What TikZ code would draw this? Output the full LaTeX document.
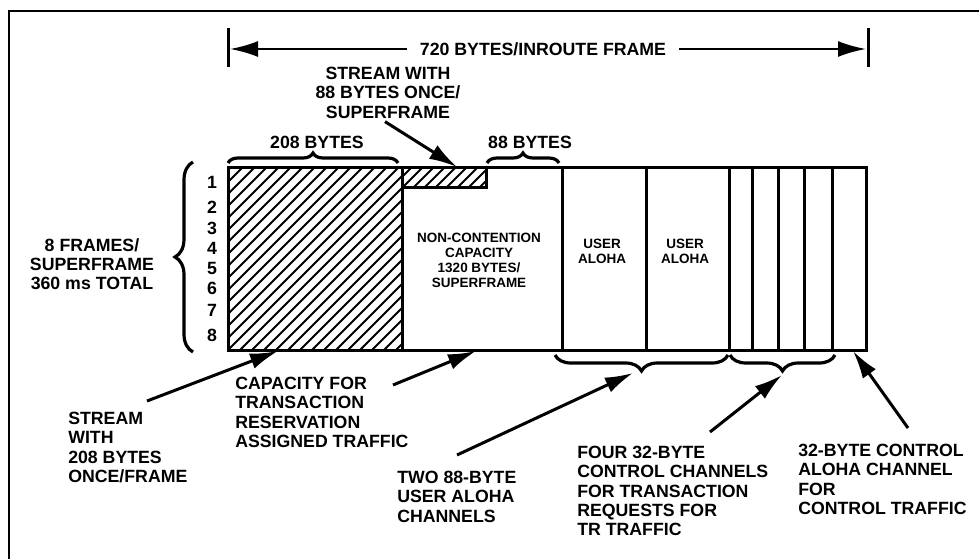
\documentclass[tikz,border=0pt]{standalone}
\usepackage{fontspec}
\setmainfont{Liberation Sans}
\usepackage{tikz}
\usetikzlibrary{arrows.meta,decorations.pathreplacing}
\newcommand{\lblfont}{\fontsize{12.6}{13.7}\selectfont\bfseries}
\newcommand{\boxfont}{\fontsize{9.6}{10.6}\selectfont\bfseries}

\begin{document}
\begin{tikzpicture}[
    x=0.025cm,y=-0.025cm,
    >={Latex[length=0.7cm,width=0.4cm]},
    lbl/.style={font=\lblfont,inner sep=0pt},
    boxlbl/.style={font=\boxfont,inner sep=0pt,align=center,anchor=north},
    note/.style={font=\lblfont,inner sep=0pt,align=left,anchor=north west},
    frm/.style={line width=0.075cm},
    arr/.style={->,line width=0.075cm},
    dimarr/.style={->,line width=0.06cm},
    brc/.style={decorate,decoration={brace,amplitude=#1},line width=0.08cm},
    hatch/.style={line width=0.05cm}
  ]
  \useasboundingbox (0,0) rectangle (979,559);
  %% Outer frame (top and left edges)
  \draw[line width=0.05cm] (9,559) -- (9,11) -- (979,11);
  %% Inroute frame width
  \node[lbl,text depth=0pt,inner xsep=0.32cm] (title) at (543,49) {720 BYTES/INROUTE FRAME};
  \coordinate (lend) at (230,49);
  \coordinate (rend) at (866,49);
  \draw[frm] (228,28) -- (228,67);
  \draw[frm] (868,28) -- (868,67);
  \draw[dimarr] (title.west) -- (lend);
  \draw[dimarr] (title.east) -- (rend);
  %% Hatched streams
  \begin{scope}
    \clip (228,167) rectangle (402,350);
    \foreach \k in {0,...,32}
      \draw[hatch] (36+\k*12,350) -- ++(200,-200);
  \end{scope}
  \begin{scope}
    \clip (402,167) rectangle (486,187);
    \foreach \k in {0,...,9}
      \draw[hatch] (392+\k*11,187) -- ++(25,-25);
  \end{scope}
  %% Superframe slots
  \draw[frm] (228,167) rectangle (866,350);
  \foreach \x in {402,562,646,729,752,778,804,832}
    \draw[frm] (\x,167) -- (\x,350);
  \draw[frm] (402,187) -- (486,187) -- (486,167);
  %% Slot texts
  \node[boxlbl] (nc) at (479,233) {NON-CONTENTION\\CAPACITY\\1320 BYTES/\\SUPERFRAME};
  \node[boxlbl] (ua1) at (602,239) {USER\\ALOHA};
  \node[boxlbl] (ua2) at (685,239) {USER\\ALOHA};
  %% Frame numbers
  \foreach \n/\y in {1/182,2/207,3/228,4/248,5/268,6/288,7/310,8/335}
    \node[lbl,anchor=base] (n\n) at (212,\y+6) {\n};
  \draw[brc=0.45cm] (193,352) -- (193,162);
  \node[lbl,align=center,anchor=north] (frames) at (92,238) {8 FRAMES/\\SUPERFRAME\\360 ms TOTAL};
  %% Byte braces above
  \draw[brc=0.25cm] (228,163) -- (398,163);
  \draw[brc=0.25cm] (487,163) -- (559,163);
  \node[lbl,anchor=base] (b208) at (317,148) {208 BYTES};
  \node[lbl,anchor=base] (b88) at (530,148) {88 BYTES};
  \node[lbl,align=center,anchor=north] (s88) at (388,67) {STREAM WITH\\88 BYTES ONCE/\\SUPERFRAME};
  \coordinate (t88) at (457,167);
  \draw[arr] (s88.south) ++(-3,3) -- (t88);
  %% Channel braces below
  \draw[brc=0.4cm] (728,355) -- (555,355);
  \draw[brc=0.4cm] (835,355) -- (730,355);
  %% Annotations below
  \node[note] (s208) at (68,412) {STREAM\\WITH\\208 BYTES\\ONCE/FRAME};
  \node[note] (cap) at (235,377) {CAPACITY FOR\\TRANSACTION\\RESERVATION\\ASSIGNED TRAFFIC};
  \node[note] (two) at (397,471) {TWO 88-BYTE\\USER ALOHA\\CHANNELS};
  \node[note] (four) at (577,446) {FOUR 32-BYTE\\CONTROL CHANNELS\\FOR TRANSACTION\\REQUESTS FOR\\TR TRAFFIC};
  \node[note] (ctl) at (798,444) {32-BYTE CONTROL\\ALOHA CHANNEL\\FOR\\CONTROL TRAFFIC};
  \coordinate (t208) at (278,351);
  \coordinate (tcap) at (476,351);
  \coordinate (talo) at (633,373);
  \coordinate (tctl) at (782,375);
  \coordinate (tclc) at (853,351);
  \draw[arr] (s208.north west) ++(79,-11) -- (t208);
  \draw[arr] (cap.north west) ++(158,8) -- (tcap);
  \draw[arr] (two.north west) ++(60,-16) -- (talo);
  \draw[arr] (four.north west) ++(133,-14) -- (tctl);
  \draw[arr] (ctl.north west) ++(110,-16) -- (tclc);
\end{tikzpicture}
\end{document}
